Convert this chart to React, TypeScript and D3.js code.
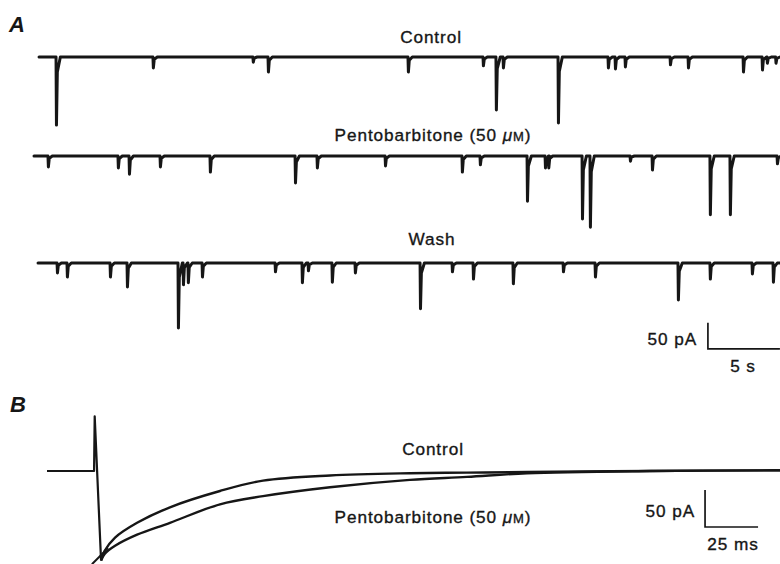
import * as d3 from 'd3';

// Panel A: spontaneous currents, events as [time (s), amplitude (pA)]
const controlEvents: [number, number][] = [
  [1.53, -131], [8.26, -21], [15.2, -10], [16.25, -29], [25.97, -29], [31.18, -17],
  [32.08, -102], [32.57, -21], [36.39, -127], [39.86, -21], [40.35, -23], [41.04, -19],
  [44.17, -15], [45.42, -21], [49.24, -29], [50.56, -25], [50.9, -12], [51.5, -12],
];
const pentoEvents: [number, number][] = [
  [0.97, -21], [5.83, -23], [6.6, -35], [8.75, -21], [12.22, -31], [18.13, -52],
  [19.65, -23], [24.38, -19], [29.72, -31], [30.97, -17], [34.24, -87], [35.49, -23],
  [35.72, -23], [38.06, -121], [38.61, -137], [41.39, -10], [42.92, -27], [46.94, -113],
  [48.33, -113], [51.6, -15],
];
const washEvents: [number, number][] = [
  [1.6, -19], [2.29, -27], [5.28, -27], [6.46, -46], [10.0, -125], [10.35, -42],
  [10.69, -38], [11.67, -27], [16.74, -17], [18.61, -38], [19.03, -15], [20.69, -37],
  [22.29, -19], [26.81, -88], [29.03, -17], [30.49, -31], [33.26, -40], [36.74, -17],
  [38.96, -27], [44.72, -71], [46.94, -31], [49.86, -21], [51.32, -37],
];
const rowLabels = ['Control', 'Pentobarbitone', 'Wash'];
const rowStarts = [0.35, 0, 0.28]; // s
const rowEnd = 52; // s

// Panel B: averaged currents, time (ms) / current (pA)
const bOnsetTime = [0, 22.2, 22.5, 25.5];
const bOnsetI = [0, 0, 74, -121];
const bTime = [25.5, 27.2, 32.1, 42.5, 58.0, 81.6, 101.9, 133.5, 171.2, 198.1, 226.4, 284.4, 346];
const bControl = [-121, -108, -90, -70, -49, -27, -13, -6, -3, -2.2, -1.4, 0, 1];
const bPento = [-121, -112, -101, -86, -70, -45, -34, -22, -12, -8, -3, 0, 1];
const bStubTime = [21.2, 28.8];
const bStubI = [-126, -104];

// scale bars
const barA = { t: 46.8, s: 5, pA: 50, top: -115 };
const barB = { t: 310.4, ms: 25, pA: 50, top: -25.7 };

const font = '"Liberation Sans", Arial, Helvetica, sans-serif';
const ink = '#161616';

export default function App() {
  const xA = d3.scaleLinear().domain([0, 5]).range([34, 106]);
  const baselines = [57, 156, 263];
  const yRow = (b: number) => d3.scaleLinear().domain([-50, 0]).range([b + 26, b]);

  const traceA = (start: number, events: [number, number][], y: d3.ScaleLinear<number, number>) => {
    const pts: [number, number][] = [[start, 0]];
    events.forEach(([t, a]) => {
      pts.push([t, 0], [t + 0.03, a], [t + 0.09, a * 0.22], [t + 0.3, 0]);
    });
    pts.push([rowEnd, 0]);
    return d3.line<[number, number]>().x(d => xA(d[0])).y(d => y(d[1]))(pts) || '';
  };

  const xB = d3.scaleLinear().domain([0, 25]).range([47, 100]);
  const yB = d3.scaleLinear().domain([-50, 0]).range([508, 471]);
  const onset = d3.line<number>().x((_, i) => xB(bOnsetTime[i])).y(d => yB(d));
  const decay = d3.line<number>().x((_, i) => xB(bTime[i])).y(d => yB(d)).curve(d3.curveCatmullRom.alpha(0.5));
  const stub = d3.line<number>().x((_, i) => xB(bStubTime[i])).y(d => yB(d));

  const allEvents = [controlEvents, pentoEvents, washEvents];
  const y3 = yRow(baselines[2]);
  const barAx0 = xA(barA.t), barAx1 = xA(barA.t + barA.s);
  const barAy0 = y3(barA.top), barAy1 = y3(-165);

  const labelStyle = {
    fontFamily: font, fontSize: 17.2, letterSpacing: 0.9, fill: ink, stroke: ink, strokeWidth: 0.35,
  } as const;
  const mu = (
    <>
      {'Pentobarbitone (50 '}
      <tspan fontStyle="italic">μ</tspan>
      <tspan fontSize={13}>M</tspan>
      {')'}
    </>
  );

  return (
    <svg width={780} height={564} style={{ position: 'absolute', left: 0, top: 0, background: '#fff' }}>
      <text x={9} y={32} fontFamily={font} fontSize={22} fontStyle="italic" fontWeight="bold" fill={ink}>A</text>
      <text x={10} y={412} fontFamily={font} fontSize={22} fontStyle="italic" fontWeight="bold" fill={ink}>B</text>

      {allEvents.map((ev, i) => (
        <path key={i} d={traceA(rowStarts[i], ev, yRow(baselines[i]))} fill="none" stroke={ink}
          strokeWidth={3} strokeLinejoin="round" strokeLinecap="round" />
      ))}
      <text x={431} y={43} textAnchor="middle" {...labelStyle}>{rowLabels[0]}</text>
      <text x={433} y={141} textAnchor="middle" {...labelStyle}>{mu}</text>
      <text x={432} y={245} textAnchor="middle" {...labelStyle}>{rowLabels[2]}</text>

      <path d={`M${barAx0},${barAy0}V${barAy1}H${barAx1}`} fill="none" stroke={ink} strokeWidth={1.7} />
      <text x={697} y={345} textAnchor="end" {...labelStyle}>50 pA</text>
      <text x={743} y={372} textAnchor="middle" {...labelStyle}>5 s</text>

      <path d={onset(bOnsetI) || ''} fill="none" stroke={ink} strokeWidth={2.2} strokeLinejoin="round" />
      <path d={decay(bPento) || ''} fill="none" stroke={ink} strokeWidth={2.4} strokeLinejoin="round" />
      <path d={decay(bControl) || ''} fill="none" stroke={ink} strokeWidth={2.4} strokeLinejoin="round" />
      <path d={stub(bStubI) || ''} fill="none" stroke={ink} strokeWidth={2} />
      <text x={433} y={455} textAnchor="middle" {...labelStyle}>Control</text>
      <text x={433} y={523} textAnchor="middle" {...labelStyle}>{mu}</text>

      <path d={`M${xB(barB.t)},${yB(barB.top)}V${yB(barB.top - barB.pA)}H${xB(barB.t + barB.ms)}`}
        fill="none" stroke={ink} strokeWidth={1.7} />
      <text x={695} y={517} textAnchor="end" {...labelStyle}>50 pA</text>
      <text x={733} y={550} textAnchor="middle" {...labelStyle}>25 ms</text>
    </svg>
  );
}
